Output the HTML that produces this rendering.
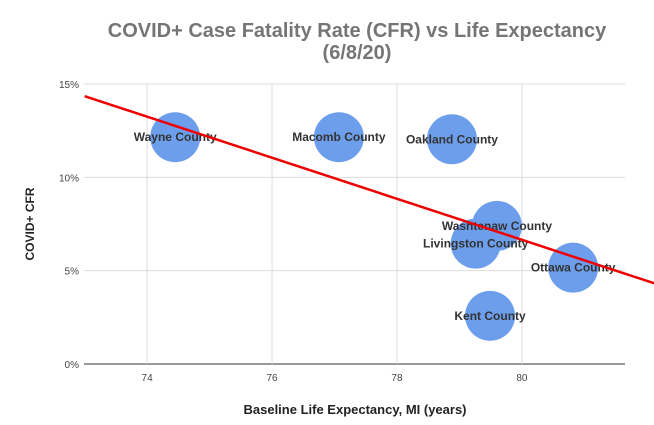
<!DOCTYPE html>
<html><head><meta charset="utf-8"><style>
body{margin:0;background:#fff;}
svg{display:block;font-family:"Liberation Sans",Arial,sans-serif;}
</style></head><body>
<svg id="chart" width="654" height="425">
<text x="357" y="37" text-anchor="middle" font-size="20" font-weight="bold" fill="#757575">COVID+ Case Fatality Rate (CFR) vs Life Expectancy</text>
<text x="357" y="59" text-anchor="middle" font-size="20" font-weight="bold" fill="#757575">(6/8/20)</text>
<g id="grid"></g><g id="ticks"></g><g id="marks"></g><g id="labels"></g>
<text x="355" y="414" text-anchor="middle" font-size="13" font-weight="bold" fill="#222">Baseline Life Expectancy, MI (years)</text>
<text transform="translate(34,224) rotate(-90)" text-anchor="middle" font-size="12" font-weight="bold" fill="#222">COVID+ CFR</text>
</svg>
<script>
const counties=["Wayne County","Macomb County","Oakland County","Washtenaw County","Livingston County","Ottawa County","Kent County"];
const lifeExp=[74.45,77.07,78.88,79.6,79.26,80.82,79.49];
const cfr=[12.15,12.15,12.04,7.4,6.45,5.16,2.58];
const xTicks=[74,76,78,80];
const yTicks=[0,5,10,15];
const trendStart=[73,14.35];
const trendEnd=[82.14,4.3];
const NS="http://www.w3.org/2000/svg";
const X0=84,X1=625,Y0=364,Y1=84,xmin=72.99,xmax=81.65,ymax=15;
const xs=v=>X0+(v-xmin)/(xmax-xmin)*(X1-X0);
const ys=v=>Y0-(v/ymax)*(Y0-Y1);
function mk(t,a,p){const e=document.createElementNS(NS,t);for(const k in a)e.setAttribute(k,a[k]);document.getElementById(p).appendChild(e);return e;}
yTicks.forEach(t=>{
 const l=mk('line',{x1:X0,x2:X1,y1:ys(t),y2:ys(t),stroke:t===0?'#333':'#ddd','stroke-width':1},'grid');
 
 
 const tx=mk('text',{x:X0-5,y:ys(t)+4,'text-anchor':'end','font-size':10,fill:'#444'},'ticks');
 tx.textContent=t+'%';
 
 
});
xTicks.forEach(t=>{
 const l=mk('line',{x1:xs(t),x2:xs(t),y1:Y1,y2:Y0,stroke:'#ddd','stroke-width':1},'grid');
 
 
 const tx=mk('text',{x:xs(t),y:Y0+17,'text-anchor':'middle','font-size':10,fill:'#444'},'ticks');
 tx.textContent=t;
 
 
});
counties.forEach((c,i)=>{
 const b=mk('circle',{cx:xs(lifeExp[i]),cy:ys(cfr[i]),r:25,fill:'#6d9eeb'},'marks');
 
 
 const t=mk('text',{x:xs(lifeExp[i]),y:ys(cfr[i])+4,'text-anchor':'middle','font-size':12,'font-weight':'bold',fill:'#333'},'labels');
 t.textContent=c;
 
 
});
const tl=mk('line',{x1:xs(trendStart[0]),y1:ys(trendStart[1]),x2:xs(trendEnd[0]),y2:ys(trendEnd[1]),stroke:'#e00',"stroke-width":2.5},'labels');


</script>
</body></html>
